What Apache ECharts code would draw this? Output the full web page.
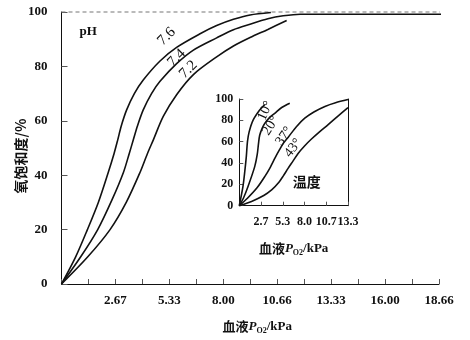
<!DOCTYPE html>
<html><head><meta charset="utf-8">
<script src="https://cdn.jsdelivr.net/npm/echarts@6/dist/echarts.min.js"></script>
<style>html,body{margin:0;padding:0;background:#fff}#c{width:470px;height:340px}</style>
</head><body><div id="c"></div>
<script>
// ---- data ----
const mainTickLabels = ['2.67','5.33','8.00','10.66','13.33','16.00','18.66'];
const insetTickLabels = ['2.7','5.3','8.0','10.7','13.3'];
const yTickLabels = ['0','20','40','60','80','100'];
const phNames = ['7.6','7.4','7.2'];
const ph76 = [[0,0],[0.7,10],[1.28,20],[1.82,30],[2.31,41],[2.6,48],[2.78,53],[2.95,58],[3.22,64],[3.6,70],[4.04,75],[4.87,82],[5.69,87],[6.85,92],[7.67,95],[8.5,97.3],[9.32,98.9],[10.35,99.8]];
const ph74 = [[0,0],[0.95,10],[1.79,20],[2.5,31],[3.06,41],[3.35,48],[3.55,53],[3.75,58],[4.04,64],[4.45,70],[4.87,74.5],[5.69,81],[6.52,86],[7.67,90.5],[8.5,93.5],[9.32,95.5],[10.2,97.5],[10.96,98.6],[11.8,99.2],[18.95,99.2]];
const ph72 = [[0,0],[1.3,10],[2.4,20],[3.2,30],[3.88,41],[4.25,48],[4.54,53],[5.03,61.6],[5.69,69.6],[6.52,77],[7.67,83.5],[8.5,87.5],[9.32,90.6],[10.2,93.6],[11.13,96.9]];
const saturationMax = [[0,100],[19.2,100]];
const tempNames = ['10°','20°','37°','43°'];
const t10 = [[0,0],[0.45,18],[0.7,34],[0.86,46],[1.0,60],[1.2,69],[1.68,80],[2.5,89.7],[3.1,94.5]];
const t20 = [[0,0],[0.5,7],[1.07,18],[1.89,36.6],[2.2,48],[2.35,58],[2.5,66],[2.8,72.5],[3.12,77],[3.7,82.5],[4.35,86.6],[5.2,92],[6.19,96]];
const t37 = [[0,0],[1.0,7],[2.2,17],[3.1,27],[3.8,36],[4.4,45],[4.9,52],[5.4,58.5],[5.98,64],[7.0,74],[8.03,82],[9.2,88],[10.5,93],[11.8,96.5],[13.33,99.5]];
const t43 = [[0,0],[1.5,4],[3.0,9.5],[4.0,15],[4.75,21],[5.4,28],[5.98,35],[6.6,42],[7.21,49],[8.0,56],[8.85,62.5],[9.8,69],[10.9,76],[12.1,84],[13.33,92]];

// label anchors (data coords)
const phLabelAt = [[5.2,91],[5.69,83.1],[6.27,78.8]];
const tempLabelAt = [[3.2,89],[3.85,75],[5.5,65],[6.6,54]];

const FONT = "'Liberation Serif','Noto Sans CJK SC',serif";
const CJK = "'Noto Sans CJK SC','Liberation Serif',serif";
const mainMax = 18.66, mainStep = mainMax/14;
const insetMax = 13.33, insetStep = insetMax/5;

const chart = echarts.init(document.getElementById('c'), null, {renderer:'canvas'});
const lineStyle = {color:'#111', width:1.6};
function curve(data, xi, yi){
  return {type:'line', xAxisIndex:xi, yAxisIndex:yi, data:data, showSymbol:false, symbol:'none',
    smooth:0.3, lineStyle:lineStyle, clip:false, silent:true, z:3};
}
const nameRich = {
  a:{fontFamily:CJK, fontSize:13, fontWeight:'bold', color:'#111'},
  p:{fontFamily:FONT, fontSize:13, fontWeight:'bold', fontStyle:'italic', color:'#111'},
  s:{fontFamily:FONT, fontSize:8, fontWeight:'bold', color:'#111', padding:[9,0,0,0]},
  k:{fontFamily:FONT, fontSize:13, fontWeight:'bold', color:'#111'}
};
const xName = '{a|血液}{p|P}{s|O2}{k|/kPa}';

chart.setOption({
  animation:false,
  backgroundColor:'#fff',
  grid:[
    {left:61.5, right:31, top:12, bottom:55.7},
    {left:239.3, right:122, top:99, bottom:134.3}
  ],
  xAxis:[
    {gridIndex:0, type:'value', min:0, max:mainMax, interval:mainStep,
     axisLine:{lineStyle:{color:'#111', width:1}},
     axisTick:{inside:true, length:5, lineStyle:{color:'#555'}},
     splitLine:{show:false},
     axisLabel:{color:'#111', fontFamily:FONT, fontSize:13, fontWeight:'bold', margin:10, showMaxLabel:true,
       formatter:v=>{const i=Math.round(v/mainStep); return (i>0 && i%2===0)? mainTickLabels[i/2-1] : '';}},
     name:xName, nameLocation:'middle', nameGap:34, nameTextStyle:{rich:nameRich, padding:[0,0,0,14]}},
    {gridIndex:1, type:'value', min:0, max:insetMax, interval:insetStep,
     axisLine:{lineStyle:{color:'#111', width:1}},
     axisTick:{inside:true, length:4, lineStyle:{color:'#555'}},
     splitLine:{show:false},
     axisLabel:{color:'#111', fontFamily:FONT, fontSize:12, fontWeight:'bold', margin:10, showMaxLabel:true,
       formatter:v=>{const i=Math.round(v/insetStep); return i>0? insetTickLabels[i-1] : '';}},
     name:xName, nameLocation:'middle', nameGap:34, nameTextStyle:{rich:nameRich}}
  ],
  yAxis:[
    {gridIndex:0, type:'value', min:0, max:100, interval:20,
     axisLine:{show:true, lineStyle:{color:'#111', width:1}},
     axisTick:{show:true, inside:true, length:6, lineStyle:{color:'#555'}},
     splitLine:{show:false},
     axisLabel:{color:'#111', fontFamily:FONT, fontSize:13, fontWeight:'bold', margin:14,
       formatter:v=>yTickLabels[Math.round(v/20)]},
     name:'氧饱和度/%', nameLocation:'middle', nameRotate:90, nameGap:34, nameMoveOverlap:false,
     nameTextStyle:{fontFamily:CJK, fontSize:14, fontWeight:'bold', color:'#111', padding:[0,16,0,0]}},
    {gridIndex:1, type:'value', min:0, max:100, interval:20,
     axisLine:{show:true, lineStyle:{color:'#111', width:1}},
     axisTick:{show:true, inside:true, length:4, lineStyle:{color:'#555'}},
     splitLine:{show:false},
     axisLabel:{color:'#111', fontFamily:FONT, fontSize:12, fontWeight:'bold', margin:6,
       formatter:v=>yTickLabels[Math.round(v/20)]}},
    {gridIndex:1, type:'value', min:0, max:100, position:'right',
     axisLine:{show:true, lineStyle:{color:'#111', width:1}},
     axisTick:{show:false}, axisLabel:{show:false}, splitLine:{show:false}}
  ],
  series:[
    {type:'line', xAxisIndex:0, yAxisIndex:0, data:saturationMax, symbol:'none', clip:false, silent:true,
     lineStyle:{color:'#777', width:1.2, type:[4,3]}, z:2},
    curve(ph76,0,0), curve(ph74,0,0), curve(ph72,0,0),
    curve(t10,1,1), curve(t20,1,1), curve(t37,1,1), curve(t43,1,1)
  ]
});

function px(gi, p){ return chart.convertToPixel({gridIndex:gi}, p); }
const graphics = [];
phNames.forEach((n,i)=>{
  const p = px(0, phLabelAt[i]);
  graphics.push({type:'text', x:p[0], y:p[1], rotation:Math.PI/4,
    style:{text:n, fontFamily:FONT, fontSize:15, fill:'#111', align:'center', verticalAlign:'middle'}});
});
const tempRot = [1.15, 1.0, 0.95, 0.9];
tempNames.forEach((n,i)=>{
  const p = px(1, tempLabelAt[i]);
  graphics.push({type:'text', x:p[0], y:p[1], rotation:tempRot[i],
    style:{text:n, fontFamily:FONT, fontSize:14, fill:'#111', align:'center', verticalAlign:'middle'}});
});
const phPos = px(0, [1.32, 92.9]);
graphics.push({type:'text', x:phPos[0], y:phPos[1],
  style:{text:'pH', fontFamily:FONT, fontSize:13, fontWeight:'bold', fill:'#111', align:'center', verticalAlign:'middle'}});
const tPos = px(1, [8.28, 22.2]);
graphics.push({type:'text', x:tPos[0], y:tPos[1],
  style:{text:'温度', fontFamily:CJK, fontSize:14, fontWeight:'bold', fill:'#111', align:'center', verticalAlign:'middle'}});
chart.setOption({graphic:graphics});
</script>
</body></html>
